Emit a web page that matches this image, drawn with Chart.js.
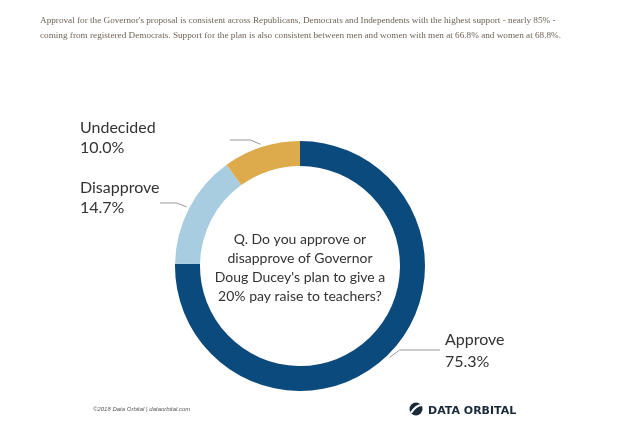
<!DOCTYPE html>
<html><head><meta charset="utf-8">
<script src="https://cdn.jsdelivr.net/npm/chart.js"></script>
<style>html,body{margin:0;background:#fff;}canvas{display:block;}</style>
</head><body>
<canvas id="c" width="620" height="429"></canvas>
<script>
const categories=["Approve","Disapprove","Undecided"];
const shares=[75.3,14.7,10.0];
const colors=["#0b4a7c","#a8cde0","#ddaa4c"];
const intro=["Approval for the Governor's proposal is consistent across Republicans, Democrats and Independents with the highest support - nearly 85% -",
  "coming from registered Democrats. Support for the plan is also consistent between men and women with men at 66.8% and women at 68.8%."];
const question=["Q. Do you approve or","disapprove of Governor","Doug Ducey's plan to give a","20% pay raise to teachers?"];

const decor={
  id:"decor",
  afterDraw(ch){
    const x=ch.ctx;
    x.save();
    x.fillStyle="#6e6458";x.font="9.2px 'Liberation Serif'";x.textBaseline="alphabetic";
    x.fillText(intro[0],40,23);x.fillText(intro[1],40,38);
    const arcs=ch.getDatasetMeta(0).data;
    const cx=arcs[0].x,cy=arcs[0].y;
    x.fillStyle="#333";x.font="14px Lato";x.textAlign="center";
    question.forEach((q,i)=>x.fillText(q,cx,cy-22+i*19));
    const spots=[{ly:350,end:440,tx:445,t1:345,t2:367},
                 {ly:203,end:160,tx:80,t1:193,t2:213},
                 {ly:140,end:230,tx:80,t1:133,t2:153}];
    arcs.forEach((a,i)=>{
      const s=spots[i];
      const mid=(a.startAngle+a.endAngle)/2;
      const r=a.outerRadius+3;
      const px=cx+Math.cos(mid)*r,py=cy+Math.sin(mid)*r;
      x.strokeStyle="#999";x.lineWidth=1;x.beginPath();
      x.moveTo(px,py);x.lineTo(px+(i===0?10:-10),s.ly);x.lineTo(s.end,s.ly);
      x.stroke();
      x.fillStyle="#333";x.font="16px Lato";x.textAlign="left";
      x.fillText(categories[i],s.tx,s.t1);
      x.fillText(shares[i].toFixed(1)+"%",s.tx,s.t2);
    });
    x.fillStyle="#555";x.font="italic 6px 'Liberation Sans'";x.textAlign="left";
    x.fillText("©2018 Data Orbital | dataorbital.com",93,411);
    x.fillStyle="#1a2a38";x.beginPath();x.arc(416,409,6.5,0,Math.PI*2);x.fill();
    x.strokeStyle="#fff";x.lineWidth=2;x.beginPath();x.moveTo(411,413);x.quadraticCurveTo(416,405,422,405);x.stroke();
    x.fillStyle="#1a2a38";x.font="bold 11px 'DejaVu Sans'";
    x.fillText("DATA ORBITAL",428,414);
    x.restore();
  }
};

new Chart(document.getElementById("c"),{
  type:"doughnut",
  data:{labels:categories,datasets:[{data:shares,backgroundColor:colors,borderWidth:0}]},
  options:{responsive:false,animation:false,cutout:"80%",
    layout:{padding:{left:175,right:195,top:141,bottom:38}},
    plugins:{legend:{display:false},tooltip:{enabled:false}}},
  plugins:[decor]
});
</script>
</body></html>
